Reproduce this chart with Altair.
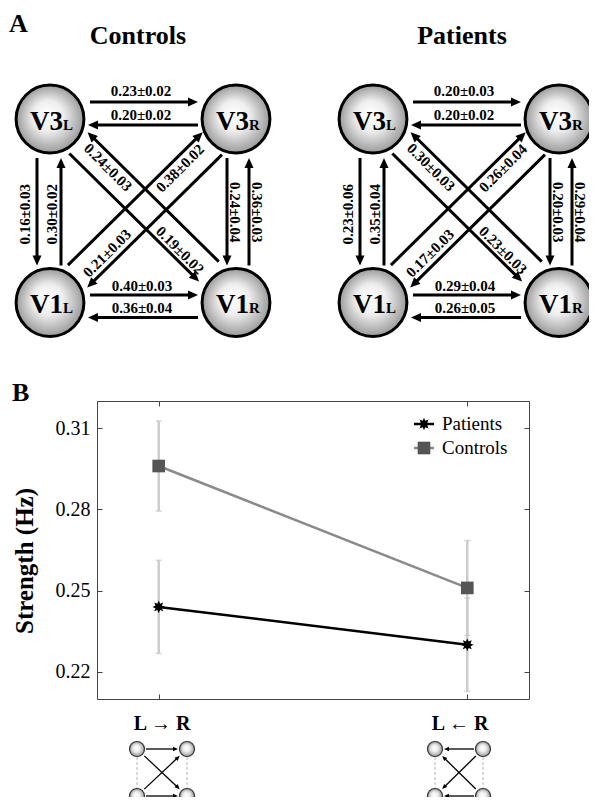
import math
import altair as alt
import pandas as pd

# ------------------------------------------------------------------ data
nodes = ["V3L", "V3R", "V1L", "V1R"]
connections = [("V3L", "V3R"), ("V3R", "V3L"), ("V1L", "V1R"), ("V1R", "V1L"),
               ("V3L", "V1L"), ("V1L", "V3L"), ("V3R", "V1R"), ("V1R", "V3R"),
               ("V1R", "V3L"), ("V3L", "V1R"), ("V1L", "V3R"), ("V3R", "V1L")]
controls_labels = ["0.23±0.02", "0.20±0.02", "0.40±0.03", "0.36±0.04",
                   "0.16±0.03", "0.30±0.02", "0.24±0.04", "0.36±0.03",
                   "0.24±0.03", "0.19±0.02", "0.38±0.02", "0.21±0.03"]
patients_labels = ["0.20±0.03", "0.20±0.02", "0.29±0.04", "0.26±0.05",
                   "0.23±0.06", "0.35±0.04", "0.20±0.03", "0.29±0.04",
                   "0.30±0.03", "0.23±0.03", "0.26±0.04", "0.17±0.03"]

directions = ["L → R", "L ← R"]
groups = ["Patients", "Controls"]
patients_mean = [0.244, 0.230]
patients_sem = [0.0172, 0.0172]
controls_mean = [0.296, 0.251]
controls_sem = [0.0166, 0.0175]
y_ticks = [0.22, 0.25, 0.28, 0.31]

# ------------------------------------------------------------------ layout (page pixels)
PANEL_X = {"Controls": 0, "Patients": 323}
NODE_POS = {"V3L": (50, 119), "V3R": (236, 119), "V1L": (50, 302.5), "V1R": (236, 302.5)}
# perpendicular offset, start gap, end gap, label offset from square centre, label angle
CONN_LAYOUT = [
    (-17, 40, 38, (-2, -119.5), 0),
    (-6, 38, 38, (-2, -96), 0),
    (-7.5, 40, 38, (-1, 75), 0),
    (-15, 38, 38, (-1, 97.5), 0),
    (13, 39, 37, (-118, 3.5), 270),
    (11, 37, 39, (-91, 3.5), 270),
    (9, 39, 37, (92, 1.5), 90),
    (13, 37, 39, (114, 1.5), 90),
    (17, 41, 36, (-35, -43.5), 45),
    (11, 38, 41, (37, 39.5), 45),
    (-14, 39, 33, (37, -42.5), 315),
    (-15.5, 35, 37, (-36, 42.5), 315),
]
HEAD_LEN = 10
ICON_X = {"L → R": (137, 187), "L ← R": (435, 483)}
ICON_Y = (749, 796)
ICON_LABEL = {"L → R": (162, 730), "L ← R": (460, 730)}
LEGEND_X = 424
LEGEND_Y = [424, 448]

SERIF = "Liberation Serif"
ARROW = "M0,0L-1,-0.45L-1,0.45Z"
star_pts = []
for k in range(16):
    r = 1.0 if k % 2 == 0 else 0.55
    a = math.pi * k / 8
    star_pts.append(f"{r*math.cos(a):.3f},{r*math.sin(a):.3f}")
STAR = "M" + "L".join(star_pts) + "Z"

XS = alt.Scale(domain=[97, 529], nice=False, zero=False)
YS = alt.Scale(domain=[401, 699], nice=False, zero=False, reverse=True)
PX = alt.X("px:Q", scale=XS, axis=None)
PY = alt.Y("py:Q", scale=YS, axis=None)

COLOR_SCALE = alt.Scale(domain=groups, range=["#000000", "#555555"])
SHAPE_SCALE = alt.Scale(domain=groups, range=[STAR, "square"])
STROKE_SCALE = alt.Scale(domain=groups, range=["#000000", "#8a8a8a"])

node_fill = alt.Gradient(
    gradient="radial",
    stops=[alt.GradientStop(color="#ffffff", offset=0),
           alt.GradientStop(color="#eeeeee", offset=0.45),
           alt.GradientStop(color="#9a9a9a", offset=1)],
    x1=0.45, y1=0.42, r1=0, x2=0.5, y2=0.5, r2=0.5)

# ------------------------------------------------------------------ build panel A geometry
shaft_rows, head_rows, label_rows, node_rows = [], [], [], []
for panel, labels in (("Controls", controls_labels), ("Patients", patients_labels)):
    ox = PANEL_X[panel]
    cx = (NODE_POS["V3L"][0] + NODE_POS["V3R"][0]) / 2 + ox
    cy = (NODE_POS["V3L"][1] + NODE_POS["V1L"][1]) / 2
    for n in nodes:
        x, y = NODE_POS[n]
        node_rows.append(dict(px=x + ox, py=y, main=n[:2], sub=n[2]))
    for (a, b), lab, (off, g0, g1, (ldx, ldy), lang) in zip(connections, labels, CONN_LAYOUT):
        ax, ay = NODE_POS[a][0] + ox, NODE_POS[a][1]
        bx, by = NODE_POS[b][0] + ox, NODE_POS[b][1]
        L = math.hypot(bx - ax, by - ay)
        ux, uy = (bx - ax) / L, (by - ay) / L
        nx, ny = -uy, ux
        tx, ty = ax + ux * g0 + nx * off, ay + uy * g0 + ny * off
        hx, hy = bx - ux * g1 + nx * off, by - uy * g1 + ny * off
        shaft_rows.append(dict(px=tx, py=ty, px2=hx - ux * HEAD_LEN * 0.8, py2=hy - uy * HEAD_LEN * 0.8))
        head_rows.append(dict(px=hx, py=hy, ang=math.degrees(math.atan2(uy, ux)) % 360))
        label_rows.append(dict(px=cx + ldx, py=cy + ldy, text=lab, ang=lang))

# ------------------------------------------------------------------ panel B icons
icon_nodes, icon_shafts, icon_heads, icon_dash, icon_text = [], [], [], [], []
for k, d in enumerate(directions):
    xl, xr = ICON_X[d]
    yt, yb = ICON_Y
    for x in (xl, xr):
        for y in (yt, yb):
            icon_nodes.append(dict(px=x, py=y))
        icon_dash.append(dict(px=x, py=yt + 8, py2=yb - 8))
    src, dst = ((xl, xr) if k == 0 else (xr, xl))
    pairs = [((src, yt), (dst, yt)), ((src, yb), (dst, yb)),
             ((src, yt), (dst, yb)), ((src, yb), (dst, yt))]
    for (ax, ay), (bx, by) in pairs:
        L = math.hypot(bx - ax, by - ay)
        ux, uy = (bx - ax) / L, (by - ay) / L
        g = 9 if ay == by else 10
        tx, ty = ax + ux * g, ay + uy * g
        hx, hy = bx - ux * g, by - uy * g
        icon_shafts.append(dict(px=tx, py=ty, px2=hx - ux * 4, py2=hy - uy * 4))
        icon_heads.append(dict(px=hx, py=hy, ang=math.degrees(math.atan2(uy, ux)) % 360))
    lx, ly = ICON_LABEL[d]
    icon_text.append(dict(px=lx, py=ly, text=d))

# ------------------------------------------------------------------ pixel layers
shafts = alt.Chart(pd.DataFrame(shaft_rows)).mark_rule(color="black", strokeWidth=3).encode(
    x=PX, y=PY, x2="px2:Q", y2="py2:Q")
heads = alt.Chart(pd.DataFrame(head_rows)).mark_point(
    shape=ARROW, filled=True, size=HEAD_LEN ** 2 * 4, color="black", opacity=1, strokeWidth=0).encode(
    x=PX, y=PY, angle=alt.Angle("ang:Q", scale=None))
circles = alt.Chart(pd.DataFrame(node_rows)).mark_point(
    shape="circle", filled=True, size=4600, fill=node_fill, stroke="black", strokeWidth=3, opacity=1).encode(
    x=PX, y=PY)
node_main = alt.Chart(pd.DataFrame(node_rows)).mark_text(
    font=SERIF, fontWeight="bold", fontSize=27, align="right", baseline="alphabetic", dx=13, dy=10.5,
    color="black").encode(x=PX, y=PY, text="main:N")
node_sub = alt.Chart(pd.DataFrame(node_rows)).mark_text(
    font=SERIF, fontWeight="bold", fontSize=15, align="left", baseline="alphabetic", dx=13, dy=10.5,
    color="black").encode(x=PX, y=PY, text="sub:N")
val_labels = alt.Chart(pd.DataFrame(label_rows)).mark_text(
    font=SERIF, fontWeight="bold", fontSize=15, align="center", baseline="middle", color="black").encode(
    x=PX, y=PY, text="text:N", angle=alt.Angle("ang:Q", scale=None))

letters = alt.Chart(pd.DataFrame([dict(px=9, py=32, text="A"), dict(px=12, py=401, text="B")])).mark_text(
    font=SERIF, fontWeight="bold", fontSize=26, align="left", baseline="alphabetic", color="black").encode(
    x=PX, y=PY, text="text:N")
titles = alt.Chart(pd.DataFrame([dict(px=138, py=44, text="Controls"),
                                 dict(px=462, py=44, text="Patients")])).mark_text(
    font=SERIF, fontWeight="bold", fontSize=26, align="center", baseline="alphabetic", color="black").encode(
    x=PX, y=PY, text="text:N")
ytitle = alt.Chart(pd.DataFrame([dict(px=25, py=561, text="Strength (Hz)")])).mark_text(
    font=SERIF, fontWeight="bold", fontSize=25, align="center", baseline="middle", angle=270,
    color="black").encode(x=PX, y=PY, text="text:N")

i_dash = alt.Chart(pd.DataFrame(icon_dash)).mark_rule(color="#b5b5b5", strokeWidth=1, strokeDash=[3, 2]).encode(
    x=PX, y=PY, y2="py2:Q")
i_shafts = alt.Chart(pd.DataFrame(icon_shafts)).mark_rule(color="black", strokeWidth=1.3).encode(
    x=PX, y=PY, x2="px2:Q", y2="py2:Q")
i_heads = alt.Chart(pd.DataFrame(icon_heads)).mark_point(
    shape=ARROW, filled=True, size=100, color="black", opacity=1, strokeWidth=0).encode(
    x=PX, y=PY, angle=alt.Angle("ang:Q", scale=None))
i_circles = alt.Chart(pd.DataFrame(icon_nodes)).mark_point(
    shape="circle", filled=True, size=225, fill=node_fill, stroke="#333333", strokeWidth=1.2, opacity=1).encode(
    x=PX, y=PY)
i_text = alt.Chart(pd.DataFrame(icon_text)).mark_text(
    font=SERIF, fontWeight="bold", fontSize=20, align="center", baseline="alphabetic", color="black").encode(
    x=PX, y=PY, text="text:N")

# legend (drawn with the same colour / shape / stroke scales as the data)
leg_df = pd.DataFrame(dict(group=groups, px=[LEGEND_X] * 2, py=LEGEND_Y,
                           px1=[LEGEND_X - 10] * 2, px2=[LEGEND_X + 10] * 2))
leg_line = alt.Chart(leg_df).mark_rule(strokeWidth=2.5).encode(
    x=alt.X("px1:Q", scale=XS, axis=None), x2="px2:Q", y=PY,
    stroke=alt.Stroke("group:N", scale=STROKE_SCALE, legend=None))
leg_pts = alt.Chart(leg_df).mark_point(filled=True, opacity=1, size=160).encode(
    x=PX, y=PY,
    color=alt.Color("group:N", scale=COLOR_SCALE, legend=None),
    shape=alt.Shape("group:N", scale=SHAPE_SCALE, legend=None))
leg_txt = alt.Chart(leg_df).mark_text(
    font=SERIF, fontSize=19, align="left", baseline="middle", dx=18, color="black").encode(
    x=PX, y=PY, text="group:N")

pix = alt.layer(circles, shafts, heads, node_main, node_sub, val_labels, letters, titles, ytitle,
                i_dash, i_shafts, i_heads, i_circles, i_text, leg_line, leg_pts, leg_txt)

# ------------------------------------------------------------------ panel B data chart
rows = []
for g, means, sems in (("Patients", patients_mean, patients_sem), ("Controls", controls_mean, controls_sem)):
    for i, (d, m, s) in enumerate(zip(directions, means, sems)):
        rows.append(dict(group=g, dir=d, idx=i, mean=m, lo=m - s, hi=m + s))
dfb = pd.DataFrame(rows)

XB = alt.Scale(type="point", domain=directions, padding=0.2)
YB = alt.Scale(domain=[0.21, 0.32], nice=False, zero=False)
XAX = alt.Axis(orient="bottom", labels=False, title=None, domain=False, tickSize=5, offset=-5,
               tickColor="#444444", grid=False)
YAX = alt.Axis(orient="left", values=y_ticks, format=".2f", title=None, domain=False, tickSize=5,
               offset=-5, tickColor="#444444", labelFont=SERIF, labelFontSize=20, labelColor="black",
               labelPadding=7, grid=False)


def xb():
    return alt.X("dir:N", scale=XB, axis=XAX)


def yb(f):
    return alt.Y(f"{f}:Q", scale=YB, axis=YAX)


err = alt.Chart(dfb).mark_rule(color="#cdcdcd", strokeWidth=2.5).encode(x=xb(), y=yb("lo"), y2="hi:Q")
cap_lo = alt.Chart(dfb).mark_tick(color="#c4c4c4", size=6, thickness=1.5).encode(x=xb(), y=yb("lo"))
cap_hi = alt.Chart(dfb).mark_tick(color="#c4c4c4", size=6, thickness=1.5).encode(x=xb(), y=yb("hi"))
lines = alt.Chart(dfb).mark_line(strokeWidth=2.5).encode(
    x=xb(), y=yb("mean"), order="idx:Q",
    stroke=alt.Stroke("group:N", scale=STROKE_SCALE, legend=None))
points = alt.Chart(dfb).mark_point(filled=True, opacity=1, size=160).encode(
    x=xb(), y=yb("mean"),
    color=alt.Color("group:N", scale=COLOR_SCALE, legend=None),
    shape=alt.Shape("group:N", scale=SHAPE_SCALE, legend=None))
data_layer = alt.layer(err, cap_lo, cap_hi, lines, points)

ticks_layer = alt.Chart(dfb).mark_point(opacity=0).encode(
    x=alt.X("dir:N", scale=XB, axis=alt.Axis(orient="top", labels=False, title=None, domain=False,
                                             tickSize=5, offset=-5, tickColor="#444444", grid=False)),
    y=alt.Y("mean:Q", scale=YB, axis=alt.Axis(orient="right", values=y_ticks, labels=False, title=None,
                                              domain=False, tickSize=5, offset=-5, tickColor="#444444",
                                              grid=False)))

chart = alt.layer(pix, data_layer, ticks_layer).resolve_scale(
    x="independent", y="independent"
).properties(
    width=432, height=298,
    padding={"left": 89, "top": 393, "right": 60, "bottom": 98},
    autosize=alt.AutoSizeParams(type="none"),
    background="white",
).configure_view(stroke="#444444", strokeWidth=1)

chart.save("out.html", embed_options={"renderer": "svg", "actions": False})
